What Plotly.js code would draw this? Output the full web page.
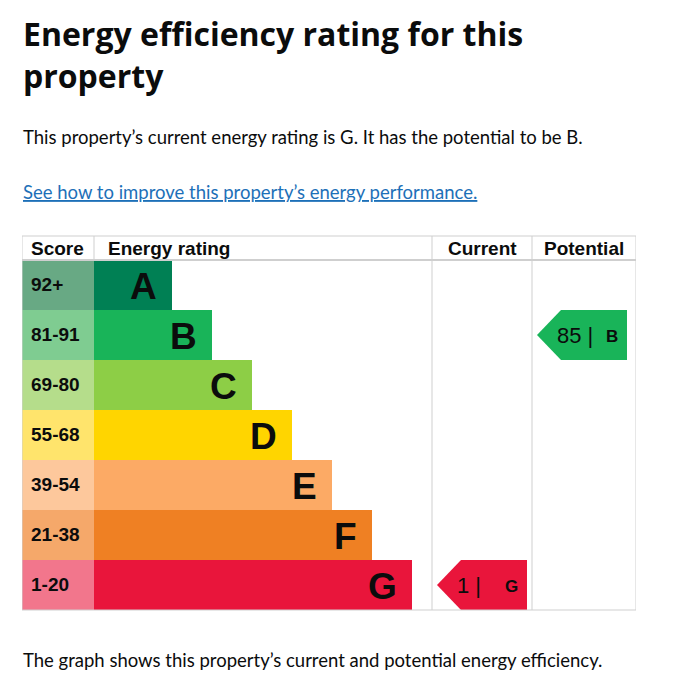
<!DOCTYPE html>
<html>
<head>
<meta charset="utf-8">
<script src="https://cdn.plot.ly/plotly-3.0.1.min.js"></script>
<style>html,body{margin:0;padding:0;background:#fff;}</style>
</head>
<body>
<div id="chart" style="width:691px;height:699px;"></div>
<script>
// ---- data ----
const ratings = ['A', 'B', 'C', 'D', 'E', 'F', 'G'];
const scoreRanges = ['92+', '81-91', '69-80', '55-68', '39-54', '21-38', '1-20'];
const bandColors = ['#008054', '#19b459', '#8dce46', '#ffd500', '#fcaa65', '#ef8023', '#e9153b'];
const scoreColors = ['#68a984', '#7fcc91', '#b5dd8b', '#ffe46c', '#fdc89c', '#f5a86a', '#f2768c'];
const currentScore = 1;
const currentRating = 'G';
const potentialScore = 85;
const potentialRating = 'B';
const headers = ['Score', 'Energy rating', 'Current', 'Potential'];

// ---- geometry (pixel-like x axis, row index y axis) ----
const W = 691, H = 699;
const L = 22, R = 636, T = 260, B = 610;
const scoreRight = 94, curLeft = 432, potLeft = 532;
const idx = ratings.map((_, i) => i);
const barLen = idx.map(i => 78 + 40 * i);
const py = p => (B - p) / (B - T);   // pixel y -> paper y
const px = p => (p - L) / (R - L);   // pixel x -> paper x
const FONT = 'Liberation Sans, Arial, sans-serif';
const GDS = 'Lato, Roboto, sans-serif';
const GDSB = 'Open Sans, Noto Sans, sans-serif';
const INK = '#0b0c0c';

const traces = [];
traces.push({
  type: 'bar', orientation: 'h', y: idx, x: idx.map(() => scoreRight - L), base: L,
  width: 1, marker: {color: scoreColors, line: {width: 0}}, hoverinfo: 'skip'
});
traces.push({
  type: 'bar', orientation: 'h', y: idx, x: barLen, base: scoreRight,
  width: 1, marker: {color: bandColors, line: {width: 0}}, hoverinfo: 'skip'
});

function arrow(rating, colLeft) {
  const i = ratings.indexOf(rating);
  const tip = colLeft + 5, body = colLeft + 29, right = colLeft + 95;
  return {
    type: 'scatter', mode: 'lines', fill: 'toself',
    fillcolor: bandColors[i], line: {width: 0, color: bandColors[i]},
    x: [right, body, tip, body, right, right],
    y: [i - 0.5, i - 0.5, i, i + 0.5, i + 0.5, i - 0.5],
    hoverinfo: 'skip'
  };
}
traces.push(arrow(currentRating, curLeft));
traces.push(arrow(potentialRating, potLeft));

const ann = [];
// score labels and band letters
idx.forEach(i => {
  ann.push({x: L + 7, y: i - 0.02, xref: 'x', yref: 'y', text: scoreRanges[i], showarrow: false,
    xanchor: 'left', yanchor: 'middle', font: {family: FONT, size: 19, color: INK, weight: 'bold'}});
  ann.push({x: scoreRight + barLen[i] - 13, y: i + 0.03, xref: 'x', yref: 'y', text: ratings[i], showarrow: false,
    xanchor: 'right', yanchor: 'middle', font: {family: FONT, size: 37, color: INK, weight: 'bold'}});
});
// arrow labels
function arrowText(score, rating, colLeft) {
  const i = ratings.indexOf(rating);
  ann.push({x: colLeft + 23, y: i, xref: 'x', yref: 'y', text: score + ' |', showarrow: false,
    xanchor: 'left', yanchor: 'middle', font: {family: FONT, size: 22, color: INK}});
  ann.push({x: colLeft + 88, y: i + 0.02, xref: 'x', yref: 'y', text: rating, showarrow: false,
    xanchor: 'right', yanchor: 'middle', font: {family: FONT, size: 17, color: INK, weight: 'bold'}});
}
arrowText(currentScore, currentRating, curLeft);
arrowText(potentialScore, potentialRating, potLeft);

// header
const hy = py(248);
ann.push({x: L + 7, y: hy, xref: 'x', yref: 'paper', text: headers[0], showarrow: false, xanchor: 'left', yanchor: 'middle', font: {family: FONT, size: 19, color: INK, weight: 'bold'}});
ann.push({x: scoreRight + 12, y: hy, xref: 'x', yref: 'paper', text: headers[1], showarrow: false, xanchor: 'left', yanchor: 'middle', font: {family: FONT, size: 19, color: INK, weight: 'bold'}});
ann.push({x: (curLeft + potLeft) / 2, y: hy, xref: 'x', yref: 'paper', text: headers[2], showarrow: false, xanchor: 'center', yanchor: 'middle', font: {family: FONT, size: 19, color: INK, weight: 'bold'}});
ann.push({x: (potLeft + R) / 2, y: hy, xref: 'x', yref: 'paper', text: headers[3], showarrow: false, xanchor: 'center', yanchor: 'middle', font: {family: FONT, size: 19, color: INK, weight: 'bold'}});

// page texts
function pageText(text, yc, size, bold, color) {
  ann.push({x: px(L - 1), y: py(yc), xref: 'paper', yref: 'paper', text: text, showarrow: false,
    xanchor: 'left', yanchor: 'middle', align: 'left',
    font: {family: bold ? GDSB : GDS, size: size, color: color || INK, weight: bold ? 'bold' : 'normal'}});
}
pageText('Energy efficiency rating for this<br>property', 54, 32, true);
pageText('This property’s current energy rating is ' + currentRating + '. It has the potential to be ' + potentialRating + '.', 137, 18.5, false);
pageText('<span style="text-decoration:underline">See how to improve this property’s energy performance.</span>', 192, 18.5, false, '#1d70b8');
pageText('The graph shows this property’s current and potential energy efficiency.', 660, 18.5, false);

// table lines
const lc = '#cfcfcf';
const shapes = [
  {type: 'rect', xref: 'x', yref: 'paper', x0: L, x1: R, y0: 0, y1: py(236), line: {color: lc, width: 1}},
  {type: 'line', xref: 'x', yref: 'paper', x0: L, x1: R, y0: py(260), y1: py(260), line: {color: lc, width: 2}},
  {type: 'line', xref: 'x', yref: 'paper', x0: scoreRight, x1: scoreRight, y0: py(260), y1: py(236), line: {color: lc, width: 1}},
  {type: 'line', xref: 'x', yref: 'paper', x0: curLeft, x1: curLeft, y0: 0, y1: py(236), line: {color: lc, width: 1}},
  {type: 'line', xref: 'x', yref: 'paper', x0: potLeft, x1: potLeft, y0: 0, y1: py(236), line: {color: lc, width: 1}}
];

const layout = {
  width: W, height: H,
  margin: {l: L, r: W - R, t: T, b: H - B, pad: 0},
  paper_bgcolor: '#fff', plot_bgcolor: '#fff',
  showlegend: false, barmode: 'overlay',
  xaxis: {range: [L, R], visible: false, fixedrange: true},
  yaxis: {range: [6.5, -0.5], visible: false, fixedrange: true},
  annotations: ann, shapes: shapes
};
Plotly.newPlot('chart', traces, layout, {staticPlot: true, displayModeBar: false});
</script>
</body>
</html>
